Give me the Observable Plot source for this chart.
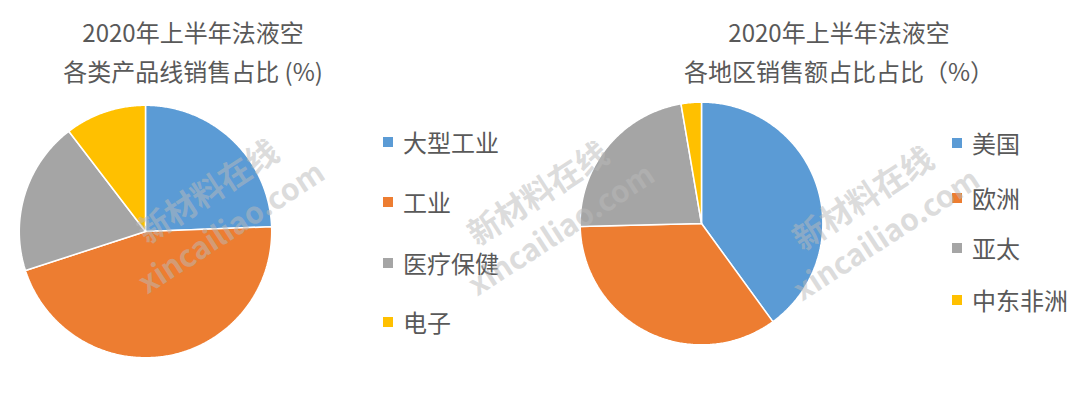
<!DOCTYPE html>
<html><head><meta charset="utf-8">
<script src="https://cdn.jsdelivr.net/npm/d3@7"></script>
<script src="https://cdn.jsdelivr.net/npm/@observablehq/plot@0.6"></script>
<style>
body{margin:0;background:#fff;}
#root{position:relative;width:1080px;height:401px;overflow:hidden;font-family:"Noto Sans CJK SC","Noto Sans",sans-serif;color:#595959;}
.title{position:absolute;text-align:center;font-size:24px;line-height:39px;white-space:nowrap;transform:translateX(-50%);}
.item{position:absolute;white-space:nowrap;display:flex;align-items:center;font-size:24px;line-height:30px;height:30px;}
.sw{width:10px;height:10px;margin-right:10px;flex:none;}
.pie{position:absolute;}
.wm{position:absolute;white-space:nowrap;font-weight:bold;color:rgba(185,185,185,0.5);text-align:center;line-height:36px;transform:translate(-50%,-50%) rotate(-33deg);pointer-events:none;}
</style></head>
<body><div id="root"></div>
<script>
const productCategories = ["大型工业", "工业", "医疗保健", "电子"];
const productShares = [24.4, 45.6, 19.6, 10.4];
const regionCategories = ["美国", "欧洲", "亚太", "中东非洲"];
const regionShares = [40.0, 34.6, 22.7, 2.7];
const sliceColors = ["#5B9BD5", "#ED7D31", "#A5A5A5", "#FFC000"];
const leftTitle = ["2020年上半年法液空", "各类产品线销售占比 (%)"];
const rightTitle = ["2020年上半年法液空", "各地区销售额占比占比（%）"];

const root = document.getElementById("root");

function slicePoints(cats, vals) {
  const arcs = d3.pie().sort(null).value(d => d)(vals);
  const rows = [];
  arcs.forEach((a, i) => {
    rows.push({cat: cats[i], x: 0, y: 0});
    const n = Math.max(2, Math.ceil((a.endAngle - a.startAngle) / 0.01));
    for (let k = 0; k <= n; k++) {
      const t = a.startAngle + (a.endAngle - a.startAngle) * k / n;
      rows.push({cat: cats[i], x: Math.sin(t), y: Math.cos(t)});
    }
    rows.push({cat: cats[i], x: 0, y: 0});
  });
  return rows;
}

function pie(cats, vals, size, left, top) {
  const p = Plot.plot({
    width: size, height: size, margin: 0,
    x: {domain: [-1.03, 1.03], axis: null},
    y: {domain: [-1.03, 1.03], axis: null},
    color: {domain: cats, range: sliceColors},
    marks: [
      Plot.line(slicePoints(cats, vals), {x: "x", y: "y", z: "cat", fill: "cat", stroke: "white", strokeWidth: 1.5, curve: "linear", strokeLinejoin: "miter"})
    ]
  });
  p.classList.add("pie");
  p.style.left = left + "px";
  p.style.top = top + "px";
  root.appendChild(p);
}

function title(lines, cx, top) {
  const d = document.createElement("div");
  d.className = "title";
  d.style.left = cx + "px";
  d.style.top = top + "px";
  d.innerHTML = lines.join("<br>");
  root.appendChild(d);
}

function legend(cats, x, rowsY) {
  cats.forEach((c, i) => {
    const d = document.createElement("div");
    d.className = "item";
    d.style.left = x + "px";
    d.style.top = (rowsY[i] - 15) + "px";
    const s = document.createElement("span");
    s.className = "sw";
    s.style.background = sliceColors[i];
    const t = document.createElement("span");
    t.textContent = c;
    d.appendChild(s); d.appendChild(t);
    root.appendChild(d);
  });
}

title(leftTitle, 193, 12);
title(rightTitle, 839, 12);
pie(productCategories, productShares, 260, 14.5, 101);
pie(regionCategories, regionShares, 250, 575.7, 98.3);
legend(productCategories, 383, [142, 202, 263, 322]);
legend(regionCategories, 952, [143, 198, 248, 300]);

[[220, 210], [550, 212], [875, 217]].forEach(([cx, cy]) => {
  const w = document.createElement("div");
  w.className = "wm";
  w.style.left = cx + "px";
  w.style.top = cy + "px";
  w.innerHTML = '<span style="font-size:32px">新材料在线</span><br><span style="font-size:30px">xincailiao.com</span>';
  root.appendChild(w);
});
</script></body></html>
